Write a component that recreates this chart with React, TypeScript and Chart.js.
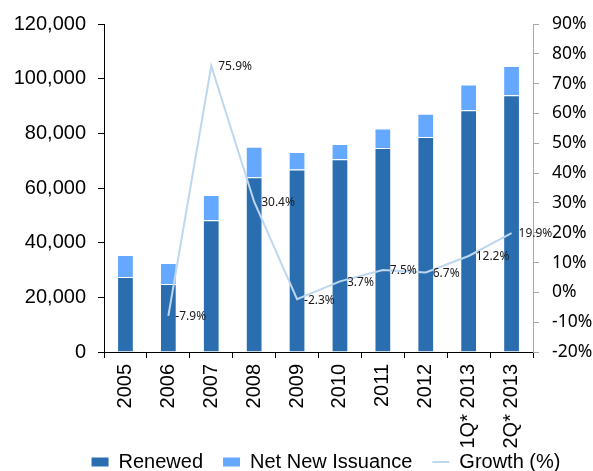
import React, { useEffect, useRef } from 'react';
import { Chart, registerables } from 'chart.js';

Chart.register(...registerables);

const categories = ['2005', '2006', '2007', '2008', '2009', '2010', '2011', '2012', '1Q* 2013', '2Q* 2013'];
const renewed = [27400, 24900, 48200, 63900, 66800, 70500, 74600, 78700, 88400, 93900];
const netNewIssuance = [8100, 7700, 9200, 11200, 6400, 5600, 7200, 8500, 9500, 10700];
const growth: (number | null)[] = [null, -7.9, 75.9, 30.4, -2.3, 3.7, 7.5, 6.7, 12.2, 19.9];

const DARK = '#2A6EB0';
const LIGHT = '#64A8FF';
const LINE = '#BDD7EE';

const growthLabels = {
  id: 'growthLabels',
  afterLayout(chart: any) {
    // let the rotated category labels use the space down to the canvas edge
    const x = chart.scales.x;
    if (x) x.bottom = chart.height;
  },
  afterDatasetsDraw(chart: any) {
    const meta = chart.getDatasetMeta(2);
    const ctx = chart.ctx;
    ctx.save();
    ctx.font = '12px "Noto Sans"';
    ctx.fillStyle = '#1a1a1a';
    ctx.textAlign = 'left';
    ctx.textBaseline = 'middle';
    meta.data.forEach((pt: any, i: number) => {
      const v = growth[i];
      if (v == null) return;
      ctx.fillText(v.toFixed(1) + '%', pt.x + 7, pt.y + 1);
    });
    ctx.restore();
  },
};

export default function App() {
  const ref = useRef<HTMLCanvasElement>(null);
  useEffect(() => {
    document.body.style.margin = '0';
    const chart = new Chart(ref.current as HTMLCanvasElement, {
      type: 'bar',
      data: {
        labels: categories,
        datasets: [
          {
            type: 'bar',
            label: 'Renewed',
            data: renewed,
            backgroundColor: DARK,
            borderColor: 'rgba(255,255,255,0.9)',
            borderWidth: 1,
            yAxisID: 'y',
            order: 1,
            categoryPercentage: 1,
            barPercentage: 0.39,
          },
          {
            type: 'bar',
            label: 'Net New Issuance',
            data: netNewIssuance,
            backgroundColor: LIGHT,
            borderColor: 'rgba(255,255,255,0.9)',
            borderWidth: 1,
            yAxisID: 'y',
            order: 1,
            categoryPercentage: 1,
            barPercentage: 0.39,
          },
          {
            type: 'line',
            label: 'Growth (%)',
            data: growth,
            borderColor: LINE,
            backgroundColor: LINE,
            borderWidth: 2,
            pointRadius: 0,
            tension: 0,
            yAxisID: 'y1',
            order: 0,
          } as any,
        ],
      },
      options: {
        responsive: false,
        animation: false,
        layout: { padding: { top: 24, left: 8, right: -51, bottom: -11 } },
        plugins: {
          tooltip: { enabled: false },
          legend: {
            position: 'bottom',
            labels: {
              usePointStyle: true,
              pointStyleWidth: 17,
              boxHeight: 9,
              padding: 20,
              color: '#000',
              font: { family: '"Liberation Sans", Arial, sans-serif', size: 20 },
              sort: (a: any, b: any) => a.datasetIndex - b.datasetIndex,
              generateLabels: (chart: any) =>
                chart.data.datasets.map((ds: any, i: number) => ({
                  text: ds.label,
                  datasetIndex: i,
                  fillStyle: ds.type === 'line' ? LINE : ds.backgroundColor,
                  strokeStyle: ds.type === 'line' ? LINE : ds.backgroundColor,
                  lineWidth: ds.type === 'line' ? 2 : 0,
                  pointStyle: ds.type === 'line' ? 'line' : 'rect',
                  fontColor: '#000',
                  hidden: false,
                })),
            },
          },
        },
        scales: {
          x: {
            stacked: true,
            offset: true,
            afterFit: (s: any) => { s.height = 80; },
            grid: { offset: true, drawOnChartArea: false, drawTicks: true, tickLength: 6, color: '#000' },
            border: { display: true, color: '#000', width: 1 },
            ticks: {
              minRotation: 90,
              maxRotation: 90,
              autoSkip: false,
              padding: 6,
              color: '#000',
              font: { family: '"Liberation Sans", Arial, sans-serif', size: 20 },
            },
          },
          y: {
            stacked: true,
            position: 'left',
            min: 0,
            max: 120000,
            afterFit: (s: any) => { s.width = 96; },
            grid: { drawOnChartArea: false, drawTicks: true, tickLength: 6, color: '#000' },
            border: { display: true, color: '#000', width: 1 },
            ticks: {
              stepSize: 20000,
              padding: 12,
              color: '#000',
              font: { family: '"Liberation Sans", Arial, sans-serif', size: 20 },
              callback: (v: any) => Number(v).toLocaleString('en-US'),
            },
          },
          y1: {
            position: 'right',
            min: -20,
            max: 90,
            afterFit: (s: any) => { s.width = 111; },
            grid: { drawOnChartArea: false, drawTicks: true, tickLength: 6, color: '#A6A6A6' },
            border: { display: true, color: '#A6A6A6', width: 1 },
            ticks: {
              stepSize: 10,
              padding: 13,
              color: '#000',
              font: { family: '"Noto Sans", sans-serif', size: 17.5 },
              callback: (v: any) => v + '%',
            },
          },
        },
      },
      plugins: [growthLabels],
    });
    return () => chart.destroy();
  }, []);
  return (
    <div style={{ width: 593, height: 471 }}>
      <canvas ref={ref} width={593} height={471} />
    </div>
  );
}
